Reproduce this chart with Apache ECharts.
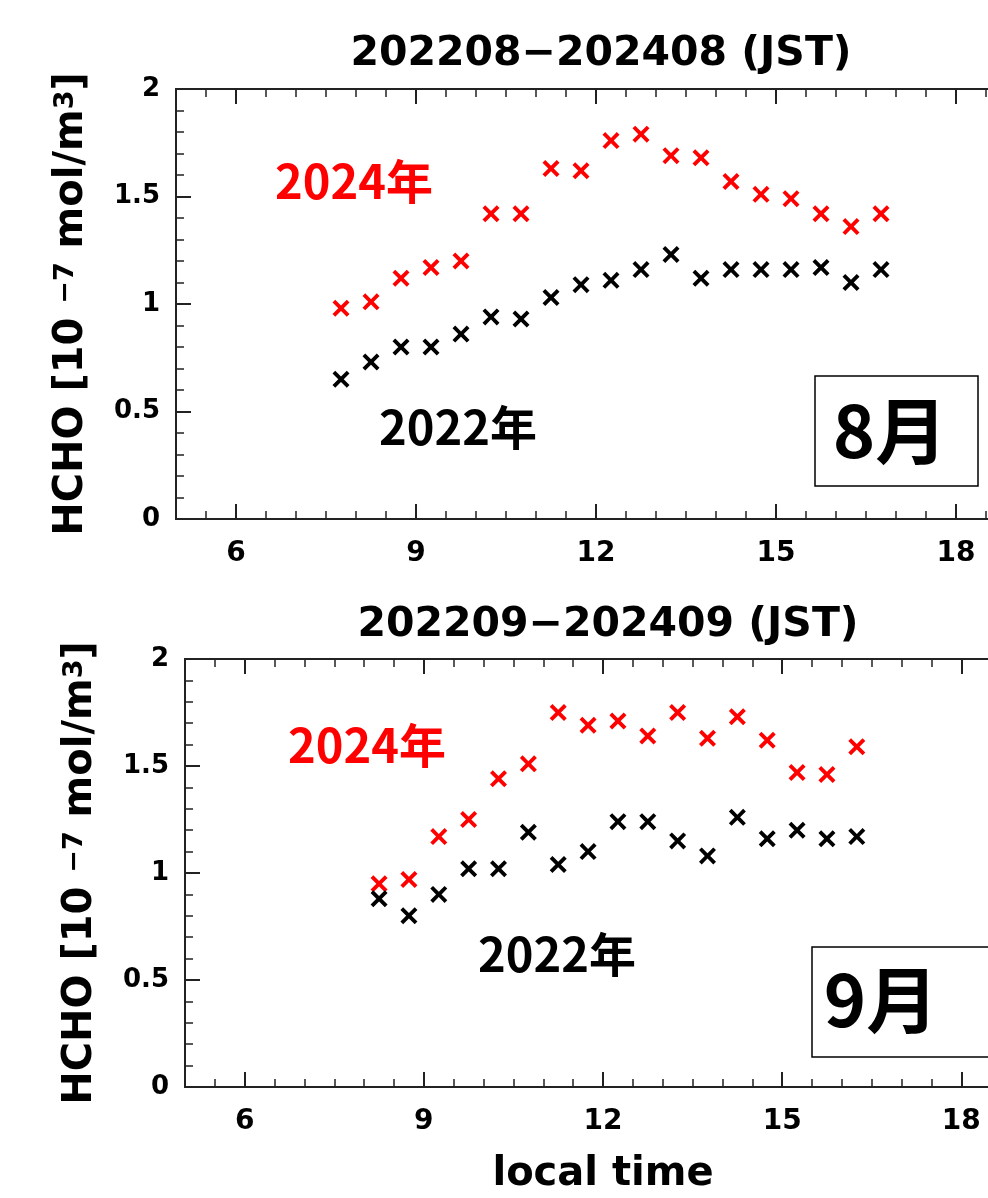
<!DOCTYPE html>
<html>
<head>
<meta charset="utf-8">
<script src="https://cdn.jsdelivr.net/npm/echarts@6/dist/echarts.min.js"></script>
<style>
  html, body { margin: 0; padding: 0; background: #fff; }
  #chart { width: 988px; height: 1198px; }
</style>
</head>
<body>
<div id="chart"></div>
<script>
// HCHO diurnal means by local time (JST), August and September, 2022 vs 2024
const augHours = [7.75, 8.25, 8.75, 9.25, 9.75, 10.25, 10.75, 11.25, 11.75, 12.25, 12.75, 13.25, 13.75, 14.25, 14.75, 15.25, 15.75, 16.25, 16.75];
const aug2024 = [0.98, 1.01, 1.12, 1.17, 1.20, 1.42, 1.42, 1.63, 1.62, 1.76, 1.79, 1.69, 1.68, 1.57, 1.51, 1.49, 1.42, 1.36, 1.42];
const aug2022 = [0.65, 0.73, 0.80, 0.80, 0.86, 0.94, 0.93, 1.03, 1.09, 1.11, 1.16, 1.23, 1.12, 1.16, 1.16, 1.16, 1.17, 1.10, 1.16];

const sepHours = [8.25, 8.75, 9.25, 9.75, 10.25, 10.75, 11.25, 11.75, 12.25, 12.75, 13.25, 13.75, 14.25, 14.75, 15.25, 15.75, 16.25];
const sep2024 = [0.95, 0.97, 1.17, 1.25, 1.44, 1.51, 1.75, 1.69, 1.71, 1.64, 1.75, 1.63, 1.73, 1.62, 1.47, 1.46, 1.59];
const sep2022 = [0.88, 0.80, 0.90, 1.02, 1.02, 1.19, 1.04, 1.10, 1.24, 1.24, 1.15, 1.08, 1.26, 1.16, 1.20, 1.16, 1.17];

const xTickValues = [6, 9, 12, 15, 18];
const panelTitles = ['202208\u2212202408 (JST)', '202209\u2212202409 (JST)'];
const monthLabels = ['8月', '9月'];
const yearLabels = ['2024年', '2022年'];

const LATIN = '"DejaVu Sans", Verdana, sans-serif';
const CJK = '"Noto Sans CJK JP", "Noto Sans CJK SC", sans-serif';
const FRAME = '#222';
// thick "x" marker outline
const CROSS = 'path://M0,1.6L1.6,0L5,3.4L8.4,0L10,1.6L6.6,5L10,8.4L8.4,10L5,6.6L1.6,10L0,8.4L3.4,5Z';

// the plot frames run past the right edge of the page (x axis ends at 19 h)
const grids = [
  { left: 176, top: 89, width: 840, height: 430 },
  { left: 185, top: 659, width: 836, height: 428 }
];

function xAxesFor(gridIndex, withName) {
  const base = { type: 'value', gridIndex, min: 5, max: 19, splitLine: { show: false }, axisLine: { show: false } };
  const major = (position, labels) => Object.assign({}, base, {
    position,
    axisTick: { show: true, inside: true, length: 15, customValues: xTickValues, lineStyle: { color: FRAME, width: 2 } },
    axisLabel: labels
      ? { show: true, customValues: xTickValues, margin: 21, color: '#000', fontFamily: LATIN, fontWeight: 'bold', fontSize: 28 }
      : { show: false },
    name: withName && labels ? 'local time' : '',
    nameLocation: 'middle',
    nameGap: 68,
    nameTextStyle: { color: '#000', fontFamily: LATIN, fontWeight: 'bold', fontSize: 40 }
  });
  const minor = (position) => Object.assign({}, base, {
    position,
    interval: 0.5,
    axisTick: { show: true, inside: true, length: 8, lineStyle: { color: FRAME, width: 1.5 } },
    axisLabel: { show: false }
  });
  return [major('bottom', true), minor('bottom'), major('top', false), minor('top')];
}

function yAxisFor(gridIndex, nameGap) {
  return {
    type: 'value', gridIndex, min: 0, max: 2, interval: 0.5,
    position: 'left',
    splitLine: { show: false },
    axisLine: { show: false },
    axisTick: { show: true, inside: true, length: 15, lineStyle: { color: FRAME, width: 2 } },
    minorTick: { show: true, splitNumber: 5, length: 8, lineStyle: { color: FRAME, width: 1.5 } },
    axisLabel: { margin: 16, color: '#000', fontFamily: LATIN, fontWeight: 'bold', fontSize: 26 },
    name: 'HCHO [10 {sup|\u22127} mol/m{sup|3}]',
    nameLocation: 'middle',
    nameRotate: 90,
    nameGap,
    nameTextStyle: {
      color: '#000', fontFamily: LATIN, fontWeight: 'bold', fontSize: 40,
      rich: { sup: { fontFamily: LATIN, fontWeight: 'bold', fontSize: 27, verticalAlign: 'top', color: '#000' } }
    }
  };
}

function crossSeries(name, xs, ys, color, xAxisIndex, yAxisIndex) {
  return {
    name, type: 'scatter', xAxisIndex, yAxisIndex,
    symbol: CROSS, symbolSize: 17,
    itemStyle: { color, opacity: 1 },
    emphasis: { disabled: true },
    data: xs.map((x, i) => [x, ys[i]]),
    z: 5
  };
}

function label(text, x, y, size, color) {
  return {
    type: 'text', x, y, z: 10,
    style: { text, fill: color, font: 'bold ' + size + 'px ' + CJK, align: 'center', verticalAlign: 'middle' }
  };
}

function monthBox(x, y, w, h) {
  return { type: 'rect', shape: { x, y, width: w, height: h }, z: 9,
           style: { fill: '#fff', stroke: '#000', lineWidth: 1.5 } };
}

const chart = echarts.init(document.getElementById('chart'), null, { renderer: 'canvas' });
chart.setOption({
  animation: false,
  backgroundColor: '#fff',
  title: [
    { text: panelTitles[0], left: 596, top: 29, textAlign: 'center',
      textStyle: { color: '#000', fontFamily: LATIN, fontWeight: 'bold', fontSize: 41 } },
    { text: panelTitles[1], left: 603, top: 600, textAlign: 'center',
      textStyle: { color: '#000', fontFamily: LATIN, fontWeight: 'bold', fontSize: 41 } }
  ],
  grid: grids.map(g => Object.assign({
    show: true, borderColor: FRAME, borderWidth: 2, backgroundColor: 'transparent',
    containLabel: false, outerBoundsMode: 'none'
  }, g)),
  xAxis: [].concat(xAxesFor(0, false), xAxesFor(1, true)),
  yAxis: [yAxisFor(0, 84), yAxisFor(1, 84)],
  series: [
    crossSeries('2024 Aug', augHours, aug2024, '#ff0000', 0, 0),
    crossSeries('2022 Aug', augHours, aug2022, '#000000', 0, 0),
    crossSeries('2024 Sep', sepHours, sep2024, '#ff0000', 4, 1),
    crossSeries('2022 Sep', sepHours, sep2022, '#000000', 4, 1)
  ],
  graphic: [
    label(yearLabels[0], 354, 181, 47, '#ff0000'),
    label(yearLabels[1], 458, 427, 47, '#000000'),
    monthBox(815, 376, 163, 110),
    label(monthLabels[0], 890, 431, 72, '#000000'),
    label(yearLabels[0], 367, 745, 47, '#ff0000'),
    label(yearLabels[1], 557, 954, 47, '#000000'),
    monthBox(812, 947, 200, 110),
    label(monthLabels[1], 881, 1000, 72, '#000000')
  ]
});
</script>
</body>
</html>
